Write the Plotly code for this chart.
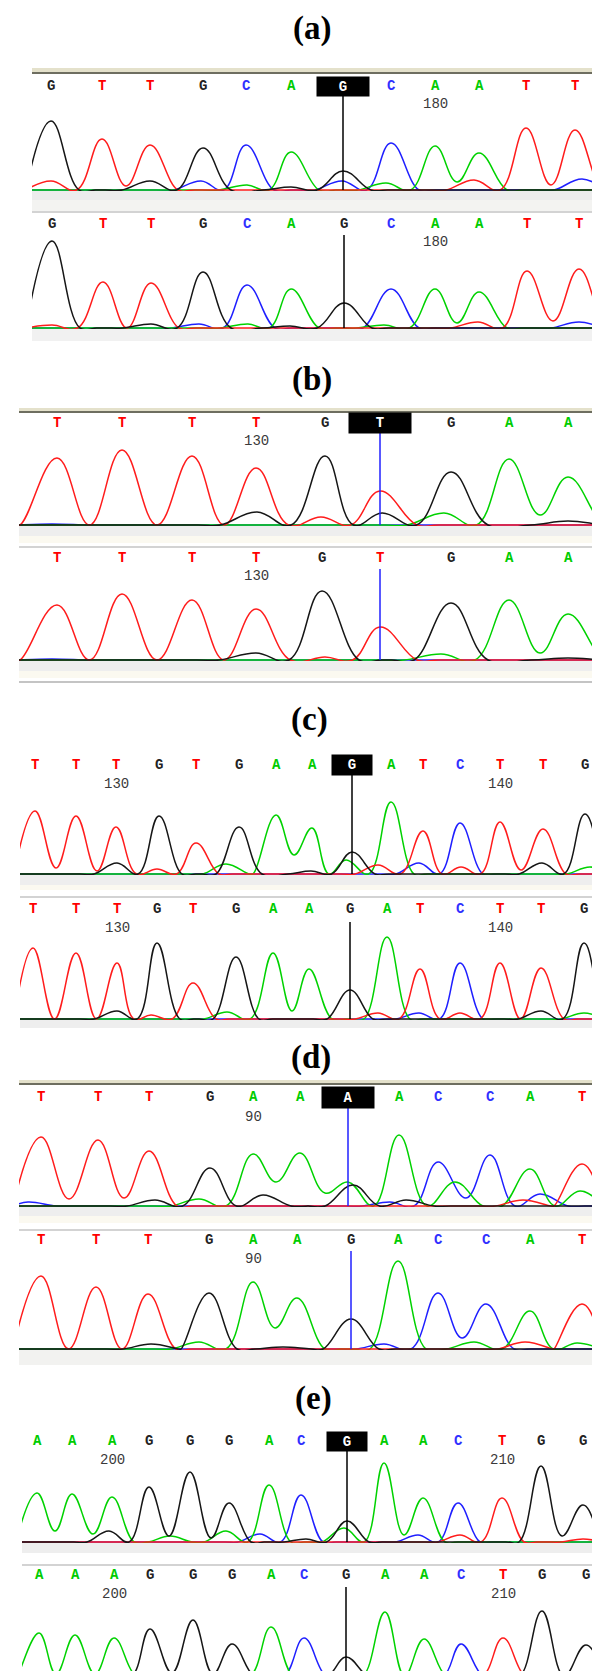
import plotly.graph_objects as go

W, H = 600, 1671

# ---------------- DATA ----------------
# trace colours per base channel
CH_COLORS = {"A": "#00d200", "C": "#1f1fff", "G": "#161616", "T": "#ff1c1c"}
TXT_COLORS = {"A": "#00cc00", "C": "#3030ff", "G": "#222222", "T": "#ff0000"}

panel_labels = ["(a)", "(b)", "(c)", "(d)", "(e)"]

# panel (a)
a_top_seq = "GTTGCAGCAATT"
a_top_pos = [43, 94, 142, 195, 238, 283, 335, 383, 427, 471, 518, 567]
a_top_h = [69, 51, 45, 42, 45, 38, 19, 47, 44, 37, 62, 60]
a_top_minor = [("T", 43, 9), ("G", 142, 9), ("C", 193, 9), ("A", 239, 5), ("G", 283, 3),
               ("C", 334, 9), ("A", 378, 7), ("T", 466, 10), ("C", 574, 11)]
a_top_valleys = [("A", 449, 8), ("T", 543, 5), ("T", 118, 4)]
a_bot_seq = "GTTGCAGCAATT"
a_bot_pos = [44, 95, 143, 195, 239, 283, 336, 383, 427, 471, 519, 571]
a_bot_h = [87, 46, 45, 56, 43, 39, 25, 39, 39, 36, 57, 59]
a_bot_minor = [("T", 44, 3), ("G", 143, 4), ("C", 191, 4), ("A", 240, 4), ("G", 282, 2),
               ("A", 376, 3), ("T", 470, 6), ("C", 571, 6)]
a_bot_valleys = [("A", 449, 5), ("T", 545, 7)]

# panel (b)
b_top_seq = "TTTTGTGAA"
b_top_pos = [49, 114, 184, 248, 317, 372, 443, 501, 560]
b_top_h = [67, 75, 69, 57, 69, 34, 53, 66, 48]
b_top_minor = [("G", 249, 13), ("T", 313, 8), ("G", 374, 12), ("A", 436, 12),
               ("G", 560, 4), ("C", 44, 1)]
b_top_valleys = [("A", 532, 10)]
b_bot_seq = "TTTTGTGAA"
b_bot_pos = [49, 114, 184, 248, 314, 372, 443, 501, 560]
b_bot_h = [55, 66, 60, 51, 69, 33, 57, 60, 46]
b_bot_minor = [("G", 248, 7), ("T", 317, 3), ("A", 433, 6), ("G", 560, 2), ("C", 44, 1)]
b_bot_valleys = [("A", 532, 7)]

# panel (c)
c_top_seq = "TTTGTGAAGATCTTG"
c_top_pos = [27, 68, 108, 151, 188, 231, 268, 304, 344, 383, 415, 452, 492, 535, 577]
c_top_h = [63, 58, 47, 58, 31, 47, 59, 46, 22, 72, 43, 51, 52, 45, 60]
c_top_minor = [("G", 109, 11), ("T", 149, 5), ("A", 218, 10), ("G", 303, 3), ("A", 338, 14),
               ("T", 370, 9), ("C", 411, 11), ("T", 453, 7), ("G", 534, 11), ("A", 582, 7)]
c_top_valleys = [("T", 48, 6), ("T", 89, 3), ("A", 286, 19), ("T", 513, 4)]
c_bot_seq = "TTTGTGAAGATCTTG"
c_bot_pos = [25, 68, 109, 149, 185, 228, 265, 301, 342, 379, 412, 452, 492, 533, 576]
c_bot_h = [71, 66, 56, 76, 36, 62, 66, 50, 29, 82, 50, 56, 56, 51, 76]
c_bot_minor = [("G", 109, 8), ("T", 143, 4), ("A", 219, 7), ("T", 370, 6), ("C", 411, 6),
               ("T", 452, 6), ("G", 533, 8), ("A", 576, 6)]
c_bot_valleys = [("A", 284, 8)]

# panel (d)
d_top_seq = "TTTGAAAACCAT"
d_top_pos = [33, 90, 141, 202, 245, 292, 340, 391, 430, 482, 522, 574]
d_top_h = [69, 66, 55, 38, 52, 53, 24, 71, 44, 51, 37, 42]
d_top_minor = [("C", 20, 4), ("G", 147, 6), ("A", 191, 7), ("G", 255, 11), ("G", 345, 21),
               ("C", 382, 4), ("G", 398, 6), ("A", 447, 24), ("T", 515, 6), ("C", 532, 12),
               ("A", 572, 15)]
d_top_valleys = [("T", 61, 7), ("T", 116, 8), ("A", 268, 24), ("A", 317, 13), ("C", 458, 8)]
d_bot_seq = "TTTGAAGACCAT"
d_bot_pos = [33, 88, 140, 201, 245, 289, 343, 390, 430, 478, 522, 574]
d_bot_h = [73, 62, 55, 56, 67, 51, 30, 88, 56, 45, 38, 45]
d_bot_minor = [("G", 143, 5), ("A", 191, 7), ("G", 275, 2), ("C", 376, 5), ("A", 466, 7),
               ("T", 517, 7), ("A", 569, 6)]
d_bot_valleys = [("A", 267, 21), ("C", 454, 11)]

# panel (e)
e_top_seq = "AAAGGGACGAACTGG"
e_top_pos = [29, 64, 104, 141, 182, 221, 261, 293, 339, 376, 415, 450, 494, 533, 575]
e_top_h = [49, 48, 45, 55, 70, 39, 57, 47, 21, 79, 44, 39, 44, 76, 37]
e_top_minor = [("G", 101, 11), ("A", 162, 6), ("A", 218, 11), ("C", 252, 8), ("G", 298, 3),
               ("A", 336, 14), ("C", 410, 7), ("T", 452, 7), ("T", 575, 3)]
e_top_valleys = [("A", 47, 11), ("A", 85, 8), ("G", 161, 6), ("G", 203, 4), ("A", 396, 7),
                 ("G", 554, 6)]
e_bot_seq = "AAAGGGACGAACTGG"
e_bot_pos = [31, 67, 106, 142, 185, 224, 263, 296, 338, 377, 416, 453, 495, 534, 578]
e_bot_h = [43, 41, 38, 47, 56, 32, 49, 38, 19, 64, 37, 32, 38, 65, 31]
e_bot_minor = [("G", 105, 4), ("A", 166, 2), ("A", 221, 3), ("C", 256, 3), ("G", 301, 2),
               ("C", 418, 2), ("T", 454, 3), ("T", 584, 3)]
e_bot_valleys = [("A", 48, 2), ("A", 87, 2), ("G", 164, 3), ("G", 205, 2)]

# position numbers: (label, base index)
a_numbers = [("180", 8)]
b_numbers = [("130", 3)]
c_numbers = [("130", 2), ("140", 12)]
d_numbers = [("90", 4)]
e_numbers = [("200", 2), ("210", 12)]

# highlighted (variant) base index per panel
highlight_idx = [6, 5, 8, 6, 8]

DATA = [
    dict(rows=[(a_top_seq, a_top_pos, a_top_h, a_top_minor, a_top_valleys),
               (a_bot_seq, a_bot_pos, a_bot_h, a_bot_minor, a_bot_valleys)], numbers=a_numbers),
    dict(rows=[(b_top_seq, b_top_pos, b_top_h, b_top_minor, b_top_valleys),
               (b_bot_seq, b_bot_pos, b_bot_h, b_bot_minor, b_bot_valleys)], numbers=b_numbers),
    dict(rows=[(c_top_seq, c_top_pos, c_top_h, c_top_minor, c_top_valleys),
               (c_bot_seq, c_bot_pos, c_bot_h, c_bot_minor, c_bot_valleys)], numbers=c_numbers),
    dict(rows=[(d_top_seq, d_top_pos, d_top_h, d_top_minor, d_top_valleys),
               (d_bot_seq, d_bot_pos, d_bot_h, d_bot_minor, d_bot_valleys)], numbers=d_numbers),
    dict(rows=[(e_top_seq, e_top_pos, e_top_h, e_top_minor, e_top_valleys),
               (e_bot_seq, e_bot_pos, e_bot_h, e_bot_minor, e_bot_valleys)], numbers=e_numbers),
]

# ---------------- LAYOUT / STYLE ----------------
CREAM = "#fbf9f0"
BAND = "#eeeeee"
LAYOUT = [
    dict(title_y=20, xr=(24, 584), topline=(60, 64, 66), box=(52, 19), cursor="#000000", w=28,
         rows=[dict(letters=78, num=96, base=182, cur=87, bands=[(182, 192, "#ececec"), (192, 203, "#f3f3f1")], sep=(204, 1.5)),
               dict(letters=216, num=234, base=320, cur=227, bands=[(320, 333, "#f1f1f1")], sep=None)]),
    dict(title_y=372, xr=(11, 597), topline=(400, 403, 405), box=(62, 20), cursor="#2020ff", w=37,
         rows=[dict(letters=415, num=433, base=517, cur=425, bands=[(517, 528, BAND), (528, 535, CREAM)], sep=(539, 1.5)),
               dict(letters=550, num=568, base=652, cur=561, bands=[(652, 663, BAND), (663, 670, CREAM)], sep=(674, 2))]),
    dict(title_y=712, xr=(12, 591), topline=None, box=(40, 20), cursor="#000000", w=23,
         rows=[dict(letters=757, num=776, base=866, cur=767, bands=[(866, 877, BAND), (877, 882, CREAM)], sep=(889, 1.5)),
               dict(letters=901, num=920, base=1011, cur=914, bands=[(1011, 1020, BAND)], sep=None)]),
    dict(title_y=1049, xr=(11, 594), topline=(1072, 1075, 1077), box=(52, 21), cursor="#2020ff", w=28,
         rows=[dict(letters=1089, num=1109, base=1198, cur=1100, bands=[(1198, 1208, BAND), (1208, 1215, CREAM)], sep=(1222, 1.5)),
               dict(letters=1232, num=1251, base=1341, cur=1243, bands=[(1341, 1357, "#f2f2f0")], sep=None)]),
    dict(title_y=1390, xr=(14, 597), topline=None, box=(40, 19), cursor="#000000", w=22,
         rows=[dict(letters=1433, num=1452, base=1534, cur=1443, bands=[(1534, 1545, BAND)], sep=(1557, 1.5)),
               dict(letters=1567, num=1586, base=1668, cur=1579, bands=[(1668, 1671, BAND)], sep=None)]),
]


def py(p):
    return 1 - p / H


def channel_knots(peaks, valleys, w, xmin, xmax):
    """Spline knots for one channel: read peak tops and valleys, baseline elsewhere."""
    peaks = sorted(peaks)
    xs, ys = [xmin - 6], [0]
    if not peaks:
        return [xmin - 6, xmax + 6], [0, 0]

    def add(x, y):
        if x > xs[-1]:
            xs.append(x)
            ys.append(y)

    add(peaks[0][0] - 1.6 * w, 0)
    add(peaks[0][0] - w, 0)
    for i, (px, ph) in enumerate(peaks):
        add(px, ph)
        if i + 1 < len(peaks):
            nx = peaks[i + 1][0]
            v = [vv for vv in valleys if px < vv[0] < nx]
            if v:
                add(v[0][0], v[0][1])
            elif nx - px < 2 * w:
                add((px + nx) / 2, 0)
            else:
                add(px + w, 0)
                if nx - px > 3.2 * w:
                    add(px + 1.6 * w, 0)
                    add(nx - 1.6 * w, 0)
                add(nx - w, 0)
    add(peaks[-1][0] + w, 0)
    add(peaks[-1][0] + 1.6 * w, 0)
    add(xmax + 6, 0)
    return xs, ys


fig = go.Figure()
annotations = []
shapes = []
axis_n = 0
LETTER_FONT = "Liberation Mono, Courier New, monospace"

for pi, (pdata, lay) in enumerate(zip(DATA, LAYOUT)):
    x0, x1 = lay["xr"]
    annotations.append(dict(text="<b>" + panel_labels[pi] + "</b>", x=0.5 * (x0 + x1) / W,
                            y=py(lay["title_y"]), xref="paper", yref="paper", showarrow=False,
                            xanchor="center", yanchor="middle",
                            font=dict(family="Liberation Serif, Times New Roman, serif", size=33, color="#000000")))
    if lay["topline"]:
        t0, t1, t2 = lay["topline"]
        shapes.append(dict(type="rect", xref="paper", yref="paper", x0=x0 / W, x1=x1 / W,
                           y0=py(t1), y1=py(t0), fillcolor="#e4e1cb", line=dict(width=0), layer="below"))
        shapes.append(dict(type="rect", xref="paper", yref="paper", x0=x0 / W, x1=x1 / W,
                           y0=py(t2), y1=py(t1), fillcolor="#6e6e60", line=dict(width=0), layer="below"))
    for ri, (row, rl) in enumerate(zip(pdata["rows"], lay["rows"])):
        seq, pos, hts, minor, valleys = row
        axis_n += 1
        xa = "x" if axis_n == 1 else f"x{axis_n}"
        ya = "y" if axis_n == 1 else f"y{axis_n}"
        base = rl["base"]
        top_px = rl["letters"] + 10
        span = base - top_px
        fig.layout[("xaxis" if axis_n == 1 else f"xaxis{axis_n}")] = dict(
            domain=[x0 / W, x1 / W], range=[x0, x1], visible=False, fixedrange=True, anchor=ya)
        fig.layout[("yaxis" if axis_n == 1 else f"yaxis{axis_n}")] = dict(
            domain=[py(base + 1), py(top_px)], range=[-1, span], visible=False, fixedrange=True, anchor=xa)
        for b0, b1, col in rl["bands"]:
            shapes.append(dict(type="rect", xref="paper", yref="paper", x0=x0 / W, x1=x1 / W,
                               y0=py(b1), y1=py(b0), fillcolor=col, line=dict(width=0), layer="below"))
        if rl["sep"]:
            sy, sw = rl["sep"]
            shapes.append(dict(type="line", xref="paper", yref="paper", x0=x0 / W, x1=x1 / W,
                               y0=py(sy), y1=py(sy), line=dict(color="#c4c4c4", width=sw), layer="below"))
        for ch in ["C", "A", "T", "G"]:
            pk = [(p, h) for p, h, b in zip(pos, hts, seq) if b == ch]
            pk += [(x, h) for (c, x, h) in minor if c == ch]
            vl = sorted([(x, h) for (c, x, h) in valleys if c == ch])
            xs, ys = channel_knots(pk, vl, lay["w"], x0, x1)
            fig.add_trace(go.Scatter(x=xs, y=ys, mode="lines", xaxis=xa, yaxis=ya,
                                     line=dict(color=CH_COLORS[ch], width=1.5, shape="spline", smoothing=1.2),
                                     hoverinfo="skip", showlegend=False))
        hl = highlight_idx[pi]
        for i, (b, p) in enumerate(zip(seq, pos)):
            if ri == 0 and i == hl:
                annotations.append(dict(text="<b>" + b + "</b>", x=p, y=py(rl["letters"]), xref=xa, yref="paper",
                                        showarrow=False, xanchor="center", yanchor="middle",
                                        width=lay["box"][0], height=lay["box"][1], bgcolor="#000000",
                                        borderpad=0, align="center", valign="middle",
                                        font=dict(family=LETTER_FONT, size=14, color="#ffffff")))
            else:
                annotations.append(dict(text="<b>" + b + "</b>", x=p, y=py(rl["letters"]), xref=xa, yref="paper",
                                        showarrow=False, xanchor="center", yanchor="middle",
                                        font=dict(family=LETTER_FONT, size=14, color=TXT_COLORS[b])))
        for lab, idx in pdata["numbers"]:
            annotations.append(dict(text=lab, x=pos[idx], y=py(rl["num"]), xref=xa, yref="paper",
                                    showarrow=False, xanchor="center", yanchor="middle",
                                    font=dict(family=LETTER_FONT, size=14, color="#3a3a3a")))
        shapes.append(dict(type="line", xref=xa, yref="paper", x0=pos[hl], x1=pos[hl],
                           y0=py(base), y1=py(rl["cur"]),
                           line=dict(color=lay["cursor"], width=1.5)))

fig.update_layout(width=W, height=H, margin=dict(l=0, r=0, t=0, b=0),
                  paper_bgcolor="#ffffff", plot_bgcolor="#ffffff",
                  annotations=annotations, shapes=shapes, showlegend=False)

fig.write_html("out.html")
